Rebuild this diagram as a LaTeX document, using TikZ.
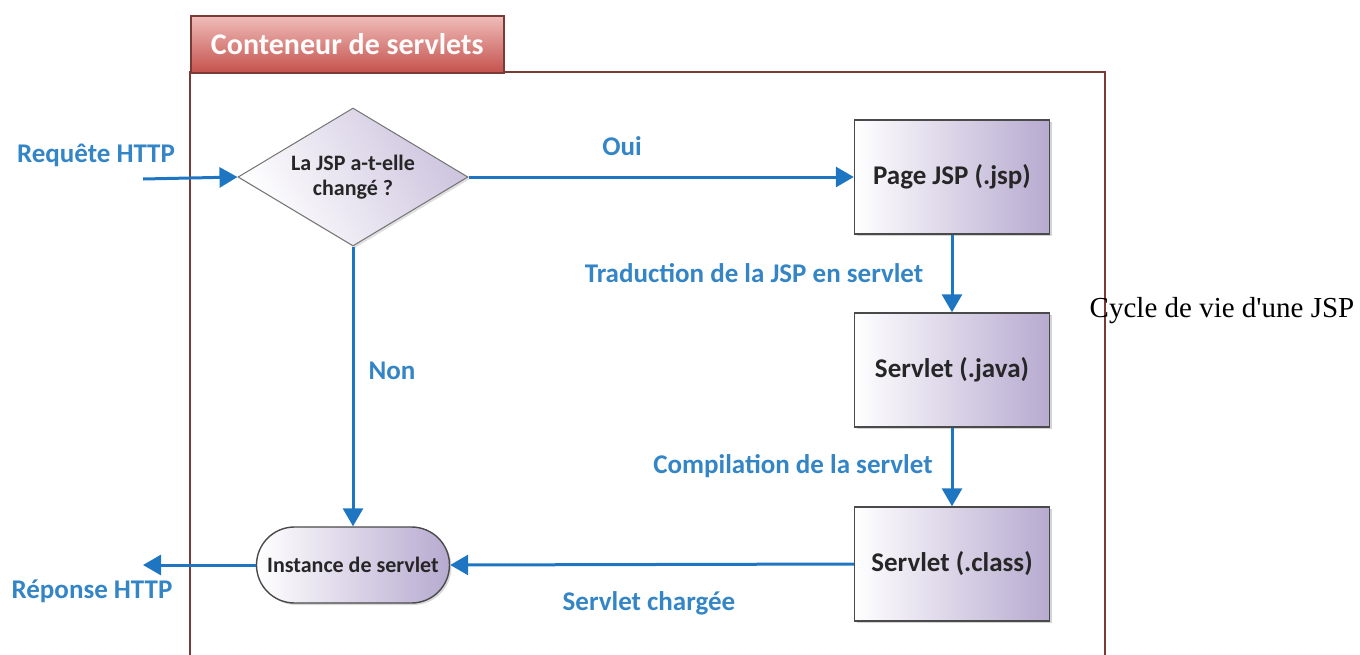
\documentclass[tikz,border=0pt]{standalone}
\usepackage{fontspec}
\setmainfont{Carlito}
\newfontfamily\captionfont{Liberation Serif}
\usetikzlibrary{arrows.meta,shapes.geometric,shapes.misc,shadows}
\definecolor{flowblue}{HTML}{1E76C2}
\definecolor{labelblue}{HTML}{3485C6}
\definecolor{lavender}{HTML}{B7AAD0}
\definecolor{framebrown}{HTML}{7A3A36}
\definecolor{tabtop}{HTML}{F0BDBA}
\definecolor{tabbottom}{HTML}{C4524D}
\definecolor{boxedge}{HTML}{4A4A4A}
\tikzset{
  stepbox/.style={draw=boxedge, line width=1.4pt, left color=white, right color=lavender,
    minimum width=195pt, minimum height=114pt, inner sep=0pt,
    font=\bfseries\fontsize{27}{30}\selectfont, text=black!85,
    drop shadow={shadow xshift=2pt, shadow yshift=-2pt, opacity=0.35}},
  decision/.style={diamond, aspect=1.667, draw=black!55, line width=1pt,
    shading=axis, left color=white, right color=lavender!70, shading angle=120,
    minimum width=230pt, minimum height=138pt, inner sep=0pt, align=center,
    font=\bfseries\fontsize{22}{25}\selectfont, text=black!85,
    drop shadow={shadow xshift=2pt, shadow yshift=-2pt, opacity=0.25}},
  terminal/.style={rounded rectangle, draw=boxedge, line width=1.4pt, left color=white, right color=lavender,
    minimum width=193pt, minimum height=76pt, inner sep=0pt,
    font=\bfseries\fontsize{22}{26}\selectfont, text=black!85,
    drop shadow={shadow xshift=2pt, shadow yshift=-2pt, opacity=0.3}},
  flow/.style={draw=flowblue, line width=3pt, -{Triangle[length=18pt,width=20pt]}},
  flowlabel/.style={text=labelblue, font=\bfseries\fontsize{27}{30}\selectfont, inner sep=0pt},
}
\begin{document}
\begin{tikzpicture}[x=1pt,y=-1pt]
  \useasboundingbox (0,0) rectangle (1360,654);

  % container frame, open at the bottom
  \draw[framebrown, line width=1.5pt] (190,660) -- (190,72) -- (1105,72) -- (1105,660);
  \node[draw=framebrown, line width=1.5pt, top color=tabtop, bottom color=tabbottom,
        minimum width=313pt, minimum height=57pt, inner sep=0pt, anchor=north west,
        font=\bfseries\fontsize{30}{32}\selectfont, text=white!95!pink]
        (tab) at (190,15) {Conteneur de servlets};

  % flowchart nodes
  \node[decision] (changed) at (353,177) {La JSP a-t-elle\\changé ?};
  \node[stepbox] (jsp) at (952,177) {Page JSP (.jsp)};
  \node[stepbox] (java) at (952,370) {Servlet (.java)};
  \node[stepbox] (class) at (952,564) {Servlet (.class)};
  \node[terminal] (instance) at (353,565) {Instance de servlet};

  % loose ends of the request and the response
  \coordinate (reqstart) at (143,179);
  \coordinate (respend) at (143,565);

  % connectors
  \draw[flow] (reqstart) -- (changed.west);
  \draw[flow] (changed.east) -- (jsp.west |- changed.east);
  \draw[flow] (jsp.south) -- (java.north);
  \draw[flow] (java.south) -- (class.north);
  \draw[flow] (changed.south) -- (instance.north -| changed.south);
  \draw[flow] (class.west) -- (instance.east);
  \draw[flow] (instance.west) -- (respend);

  % labels
  \node[flowlabel] (lreq) at (96,155) {Requête HTTP};
  \node[flowlabel] (loui) at (622,146) {Oui};
  \node[flowlabel] (ltrad) at (754,273) {Traduction de la JSP en servlet};
  \node[flowlabel] (lcomp) at (793,466) {Compilation de la servlet};
  \node[flowlabel] (lnon) at (392,371) {Non};
  \node[flowlabel] (lload) at (649,603) {Servlet chargée};
  \node[flowlabel] (lresp) at (92,591) {Réponse HTTP};

  \node[font=\captionfont\fontsize{29}{32}\selectfont, inner sep=0pt] (caption) at (1222,311) {Cycle de vie d'une JSP};
\end{tikzpicture}
\end{document}
